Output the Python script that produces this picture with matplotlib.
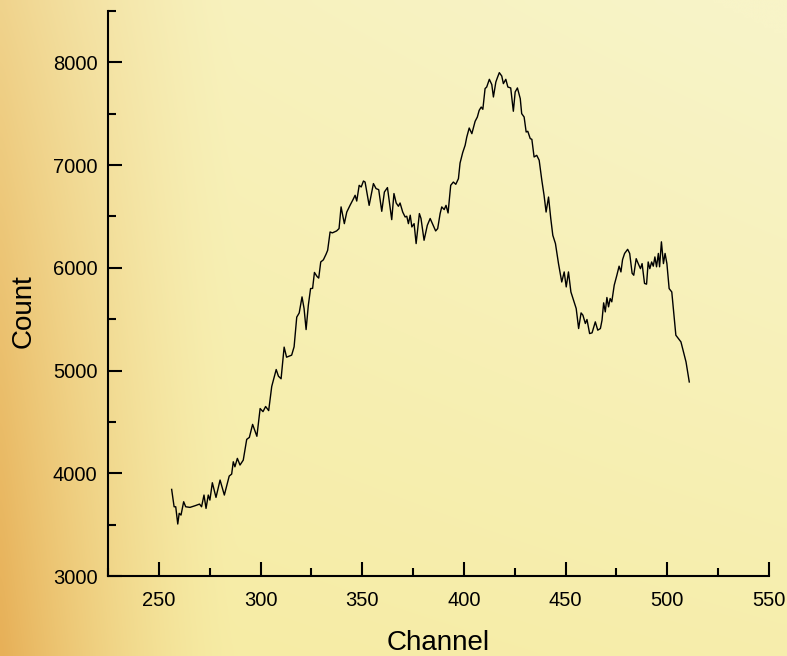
import numpy as np
import matplotlib
matplotlib.use("Agg")
import matplotlib.pyplot as plt
from matplotlib.ticker import MultipleLocator
from matplotlib import font_manager

# ---- data ----
channel = [256.3, 257.5, 258.3, 259.3, 260.0, 260.9, 262.2, 263.2, 265.3, 267.8,
           270.0, 271.0, 272.2, 273.2, 274.3, 275.1, 276.3, 278.1, 280.1, 282.2,
           284.6, 285.8, 286.6, 287.4, 288.6, 289.9, 291.5, 293.2, 294.5, 296.1,
           298.2, 299.8, 301.2, 302.5, 304.0, 305.5, 307.7, 308.8, 310.1, 311.6,
           312.8, 315.3, 316.5, 317.8, 319.0, 320.4, 321.4, 322.4, 323.5, 324.6,
           325.6, 326.5, 327.8, 328.6, 329.6, 330.9, 332.2, 333.0, 334.2, 335.3,
           337.4, 338.6, 339.6, 341.2, 342.4, 344.0, 345.7, 346.5, 347.3, 348.5,
           349.5, 350.6, 351.4, 353.4, 355.5, 356.8, 358.1, 359.6, 360.9, 362.4,
           364.5, 365.6, 366.7, 367.8, 368.6, 369.9, 371.1, 371.9, 372.7, 373.6,
           374.4, 375.5, 376.5, 378.1, 378.9, 380.4, 382.0, 383.4, 386.1, 387.1,
           388.3, 389.1, 390.3, 391.2, 392.2, 393.5, 394.8, 396.0, 397.3, 398.1,
           399.4, 400.6, 401.4, 402.6, 403.9, 405.5, 406.6, 407.5, 408.5, 409.3,
           410.4, 411.2, 412.5, 413.7, 414.5, 415.7, 416.4, 417.4, 418.6, 419.4,
           420.6, 421.6, 423.0, 424.3, 425.2, 426.3, 427.7, 428.4, 429.6, 430.6,
           431.4, 432.6, 433.4, 434.5, 435.8, 437.0, 438.3, 439.4, 440.4, 441.6,
           442.7, 443.7, 445.0, 446.5, 448.1, 449.3, 450.3, 451.4, 452.6, 453.9,
           455.2, 456.4, 457.6, 458.5, 459.7, 460.5, 461.8, 463.0, 464.6, 465.8,
           467.1, 467.9, 468.7, 469.5, 470.3, 471.1, 471.9, 472.7, 473.9, 475.2,
           476.3, 477.2, 478.0, 479.0, 480.5, 481.5, 482.7, 483.5, 484.7, 485.7,
           486.8, 487.6, 488.8, 489.8, 490.6, 491.4, 492.3, 493.1, 493.9, 494.7,
           495.6, 496.2, 497.1, 498.1, 498.9, 499.8, 500.9, 502.2, 504.2, 506.7,
           509.2, 510.8]
count = [3843, 3674, 3674, 3506, 3610, 3593, 3723, 3674, 3668, 3684,
         3700, 3674, 3788, 3658, 3788, 3739, 3908, 3765, 3934, 3788,
         3973, 3992, 4112, 4063, 4145, 4080, 4128, 4330, 4349, 4476,
         4360, 4630, 4600, 4650, 4610, 4845, 5010, 4945, 4920, 5228,
         5130, 5150, 5231, 5520, 5560, 5717, 5604, 5399, 5636, 5798,
         5800, 5955, 5915, 5900, 6057, 6078, 6132, 6171, 6349, 6340,
         6359, 6382, 6593, 6430, 6543, 6608, 6673, 6706, 6650, 6803,
         6787, 6845, 6835, 6608, 6820, 6771, 6761, 6550, 6738, 6781,
         6469, 6723, 6631, 6599, 6631, 6543, 6495, 6502, 6430, 6512,
         6398, 6430, 6236, 6528, 6480, 6268, 6414, 6480, 6359, 6382,
         6528, 6593, 6567, 6608, 6534, 6803, 6835, 6813, 6868, 7020,
         7122, 7193, 7273, 7361, 7306, 7426, 7468, 7533, 7565, 7543,
         7745, 7760, 7835, 7784, 7663, 7809, 7848, 7900, 7867, 7793,
         7835, 7760, 7751, 7524, 7712, 7751, 7647, 7501, 7468, 7322,
         7329, 7258, 7251, 7079, 7095, 7047, 6852, 6706, 6543, 6689,
         6480, 6317, 6236, 6041, 5862, 5960, 5814, 5960, 5765, 5684,
         5604, 5409, 5561, 5539, 5458, 5497, 5360, 5367, 5474, 5393,
         5409, 5490, 5659, 5571, 5711, 5620, 5701, 5669, 5831, 5928,
         6016, 5960, 6080, 6140, 6180, 6140, 5947, 5928, 6089, 6041,
         5992, 6041, 5848, 5841, 6057, 5992, 6057, 6016, 6106, 6010,
         6140, 6010, 6253, 6041, 6140, 6041, 5798, 5765, 5344, 5279,
         5084, 4889]

x_ticks = [250, 300, 350, 400, 450, 500, 550]
y_ticks = [3000, 4000, 5000, 6000, 7000, 8000]
x_label = "Channel"
y_label = "Count"

# ---- fonts ----
avail = {f.name for f in font_manager.fontManager.ttflist}
narrow = "Liberation Sans Narrow" if "Liberation Sans Narrow" in avail else "Liberation Sans"
plt.rcParams["font.family"] = [narrow, "DejaVu Sans"]

fig = plt.figure(figsize=(7.87, 6.56), dpi=100)

# ---- parchment-like background ----
bg = fig.add_axes([0, 0, 1, 1], zorder=-10)
H, W = 131, 157
v, u = np.mgrid[0:1:H * 1j, 0:1:W * 1j]
cream = np.array([248, 244, 200]) / 255.0
yellow = np.array([246, 235, 160]) / 255.0
orange = np.array([231, 176, 88]) / 255.0
w_y = np.clip(0.4 + 0.55 * v - 0.45 * u * (1 - v) - 0.25 * u * v, 0, 1)[..., None]
w_o = (np.clip(1 - u / 0.3, 0, 1) ** 1.5 * (0.45 + 0.55 * v))[..., None]
img = cream * (1 - w_y) + yellow * w_y
img = img * (1 - w_o) + orange * w_o
bg.imshow(img, aspect="auto", extent=[0, 1, 0, 1], interpolation="bicubic")
bg.set_axis_off()

# ---- main axes ----
ax = fig.add_axes([108 / 787, 80 / 656, 661 / 787, 565 / 656])
ax.patch.set_alpha(0)
ax.plot(channel, count, color="black", linewidth=1.0)

ax.set_xlim(225, 550)
ax.set_ylim(3000, 8500)
ax.set_xticks(x_ticks)
ax.set_yticks(y_ticks)
ax.xaxis.set_minor_locator(MultipleLocator(25))
ax.yaxis.set_minor_locator(MultipleLocator(500))

for s in ["top", "right"]:
    ax.spines[s].set_visible(False)
for s in ["left", "bottom"]:
    ax.spines[s].set_linewidth(1.5)

ax.tick_params(which="major", direction="in", length=10, width=1.5, labelsize=14.5, colors="black")
ax.tick_params(which="minor", direction="in", length=5.5, width=1.5)
ax.tick_params(axis="x", which="major", pad=11)
ax.tick_params(axis="y", which="major", pad=7.5)

ax.set_xlabel(x_label, fontsize=20, labelpad=14)
ax.set_ylabel(y_label, fontsize=20, family=["Liberation Sans", "DejaVu Sans"])
ax.yaxis.set_label_coords(-0.108, 0.469)

fig.savefig("out.png", dpi=100)
